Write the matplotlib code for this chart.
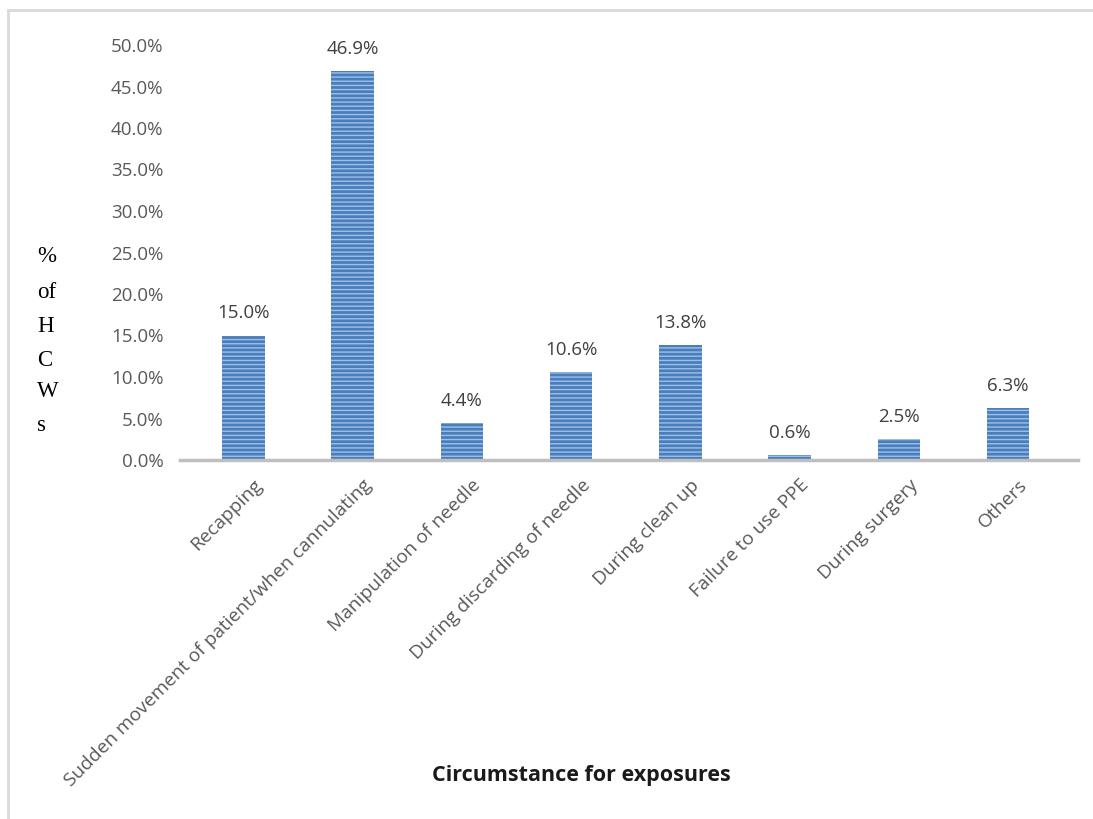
import matplotlib
matplotlib.use("Agg")
import matplotlib.pyplot as plt
from matplotlib.patches import Rectangle
import matplotlib.transforms as mtransforms

categories = ["Recapping", "Sudden movement of patient/when cannulating",
              "Manipulation of needle", "During discarding of needle",
              "During clean up", "Failure to use PPE", "During surgery", "Others"]
values = [15.0, 46.9, 4.4, 10.6, 13.8, 0.6, 2.5, 6.3]
yticks = [0, 5, 10, 15, 20, 25, 30, 35, 40, 45, 50]
ylabel_chars = ["%", "of", "H", "C", "W", "s"]
xtitle = "Circumstance for exposures"

plt.rcParams['hatch.linewidth'] = 1.0
plt.rcParams['hatch.color'] = '#9dc0ea'

W, H = 1093, 819
fig = plt.figure(figsize=(W/100, H/100), dpi=100)
ax = fig.add_axes([180/W, 1-460/H, 898/W, (460-45)/H])

x = list(range(len(categories)))
bars = ax.bar(x, values, width=0.39, color='#4a7ebb', edgecolor='#9dc0ea',
              hatch='----', linewidth=0)

ax.set_xlim(-0.58, 7.64)
ax.set_ylim(0, 50)
for s in ['top', 'right', 'left']:
    ax.spines[s].set_visible(False)
ax.spines['bottom'].set_color('#bfbfbf')
ax.spines['bottom'].set_linewidth(2.5)

ax.set_yticks(yticks)
ax.set_yticklabels([f"{v:.1f}%" for v in yticks], fontfamily='Open Sans',
                   fontsize=13.5, color='#595959')
ax.tick_params(axis='y', length=0, pad=12)
ax.tick_params(axis='x', length=0, pad=0)

ax.set_xticks(x)
offset = mtransforms.ScaledTranslation(10/100, -16/100, fig.dpi_scale_trans)
labels = ax.set_xticklabels(categories, rotation=45, ha='right', va='top',
                            rotation_mode='anchor', fontfamily='Open Sans',
                            fontsize=13.8, color='#595959')
for lab in labels:
    lab.set_transform(lab.get_transform() + offset)

for xi, v in zip(x, values):
    ax.annotate(f"{v:.1f}%", (xi, v), xytext=(0, 13), textcoords='offset pixels',
                ha='center', va='bottom', fontfamily='Open Sans', fontsize=13.5,
                color='#404040', annotation_clip=False)

# stacked y label
ys = [257, 293, 327, 360, 391, 425]
for ch, yy in zip(ylabel_chars, ys):
    fig.text(37/W, 1-yy/H, ch, ha='left', va='center', fontfamily='Liberation Serif',
             fontsize=16.5, color='#000000')

fig.text(581/W, 1-775/H, xtitle, ha='center', va='center', fontfamily='Open Sans',
         fontweight='bold', fontsize=15.5, color='#1a1a1a')

# chart border
fig.patches.append(Rectangle((8/W, -0.05), 1.2, 1 - 10/H + 0.05, transform=fig.transFigure,
                             fill=False, edgecolor='#d9d9d9', linewidth=2))

fig.savefig("out.png", dpi=100, facecolor='white')
